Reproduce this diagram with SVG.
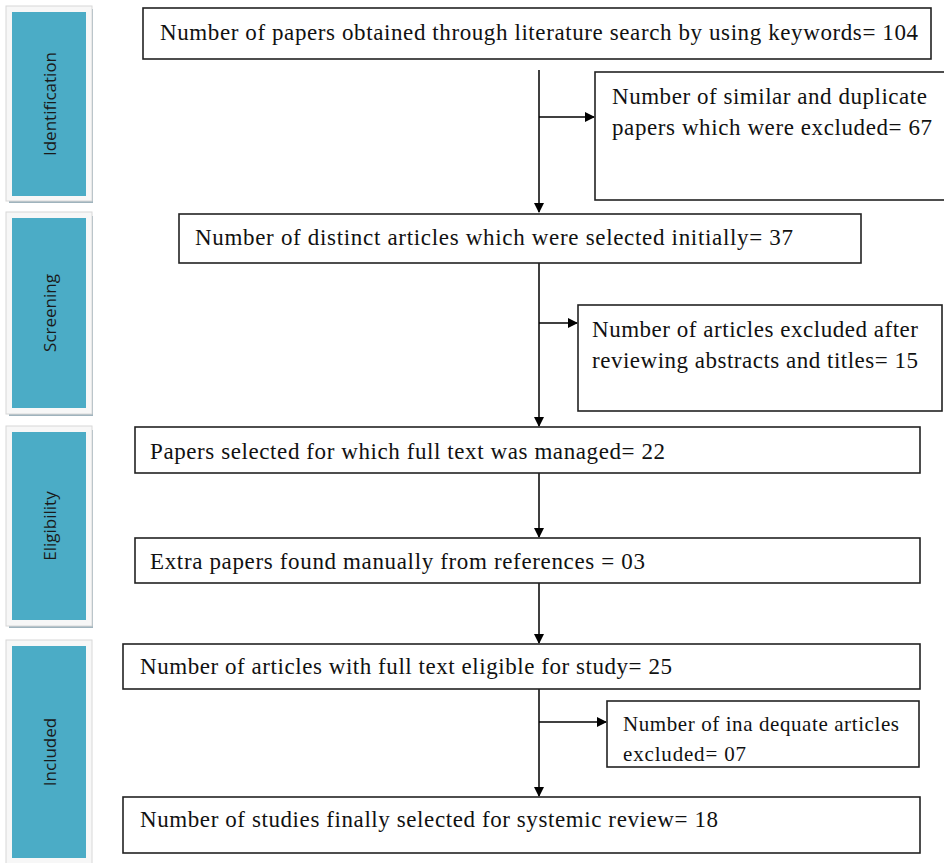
<svg xmlns="http://www.w3.org/2000/svg" width="944" height="863" viewBox="0 0 944 863">
<style>
.frame{fill:#f7f7f7;stroke:#d8d8d8;stroke-width:1}
.shadow{fill:#9fb3bd}
.bar{fill:#4bacc6}
.lbl{font-family:"Open Sans","Liberation Sans",sans-serif;font-size:17px;fill:#1a1a1a;text-anchor:middle;dominant-baseline:central}
.box{fill:#fff;stroke:#222;stroke-width:1.6}
.t{font-family:"Liberation Serif","Times New Roman",serif;font-size:23px;fill:#111}
.c{font-family:"Liberation Serif","Times New Roman",serif;font-size:21px;fill:#111}
.ln{stroke:#000;stroke-width:1.5;fill:none}
</style>
<defs>
<marker id="ah" markerWidth="10" markerHeight="10" refX="9" refY="5" orient="auto" markerUnits="userSpaceOnUse">
<path d="M0,0 L10,5 L0,10 Z" fill="#000"/>
</marker>
</defs>
<rect width="944" height="863" fill="#fff"/>
<g id="stage-identification">
<rect class="shadow" x="9" y="9" width="84" height="194"/>
<rect class="frame" x="6" y="6" width="86" height="195"/>
<rect class="bar" x="12" y="12" width="74" height="184"/>
<text class="lbl" transform="translate(49,104) rotate(-90)">Identification</text>
</g>
<g id="stage-screening">
<rect class="shadow" x="9" y="216" width="84" height="200"/>
<rect class="frame" x="6" y="212" width="86" height="202"/>
<rect class="bar" x="12" y="218" width="74" height="190"/>
<text class="lbl" transform="translate(49,313) rotate(-90)">Screening</text>
</g>
<g id="stage-eligibility">
<rect class="shadow" x="9" y="430" width="84" height="198"/>
<rect class="frame" x="6" y="426" width="86" height="200"/>
<rect class="bar" x="12" y="432" width="74" height="188"/>
<text class="lbl" transform="translate(49,526) rotate(-90)">Eligibility</text>
</g>
<g id="stage-included">
<rect class="frame" x="6" y="640" width="86" height="226"/>
<rect class="bar" x="12" y="646" width="74" height="212"/>
<text class="lbl" transform="translate(49,752) rotate(-90)">Included</text>
</g>
<g id="connectors">
<line class="ln" x1="539" y1="70" x2="539" y2="212" marker-end="url(#ah)"/>
<line class="ln" x1="539" y1="117" x2="594" y2="117" marker-end="url(#ah)"/>
<line class="ln" x1="539" y1="263" x2="539" y2="426" marker-end="url(#ah)"/>
<line class="ln" x1="539" y1="323" x2="577" y2="323" marker-end="url(#ah)"/>
<line class="ln" x1="539" y1="473" x2="539" y2="537" marker-end="url(#ah)"/>
<line class="ln" x1="539" y1="583" x2="539" y2="643" marker-end="url(#ah)"/>
<line class="ln" x1="539" y1="689" x2="539" y2="796" marker-end="url(#ah)"/>
<line class="ln" x1="539" y1="722" x2="606" y2="722" marker-end="url(#ah)"/>
</g>
<g id="n-search">
<rect class="box" x="143" y="8" width="788" height="51"/>
<text class="t" x="160" y="40" textLength="758" lengthAdjust="spacing">Number of papers obtained through literature search by using keywords= 104</text>
</g>
<g id="n-duplicates">
<rect class="box" x="595" y="72" width="360" height="128"/>
<text class="t" x="612" y="104" textLength="315" lengthAdjust="spacing">Number of similar and duplicate</text>
<text class="t" x="612" y="135" textLength="320" lengthAdjust="spacing">papers which were excluded= 67</text>
</g>
<g id="n-distinct">
<rect class="box" x="179" y="214" width="682" height="49"/>
<text class="t" x="195" y="245" textLength="598" lengthAdjust="spacing">Number of distinct articles which were selected initially= 37</text>
</g>
<g id="n-abstracts">
<rect class="box" x="578" y="305" width="364" height="106"/>
<text class="t" x="592" y="337" textLength="326" lengthAdjust="spacing">Number of articles excluded after</text>
<text class="t" x="592" y="368" textLength="326" lengthAdjust="spacing">reviewing abstracts and titles= 15</text>
</g>
<g id="n-fulltext">
<rect class="box" x="135" y="427" width="785" height="46"/>
<text class="t" x="150" y="459" textLength="515" lengthAdjust="spacing">Papers selected for which full text was managed= 22</text>
</g>
<g id="n-extra">
<rect class="box" x="135" y="538" width="785" height="45"/>
<text class="t" x="150" y="569" textLength="495" lengthAdjust="spacing">Extra papers found manually from references = 03</text>
</g>
<g id="n-eligible">
<rect class="box" x="123" y="644" width="797" height="45"/>
<text class="t" x="140" y="674" textLength="532" lengthAdjust="spacing">Number of articles with full text eligible for study= 25</text>
</g>
<g id="n-inadequate">
<rect class="box" x="607" y="701" width="312" height="66"/>
<text class="c" x="623" y="731" textLength="276" lengthAdjust="spacing">Number of ina dequate articles</text>
<text class="c" x="623" y="761" textLength="123" lengthAdjust="spacing">excluded= 07</text>
</g>
<g id="n-final">
<rect class="box" x="123" y="797" width="797" height="56"/>
<text class="t" x="140" y="827" textLength="578" lengthAdjust="spacing">Number of studies finally selected for systemic review= 18</text>
</g>
</svg>
